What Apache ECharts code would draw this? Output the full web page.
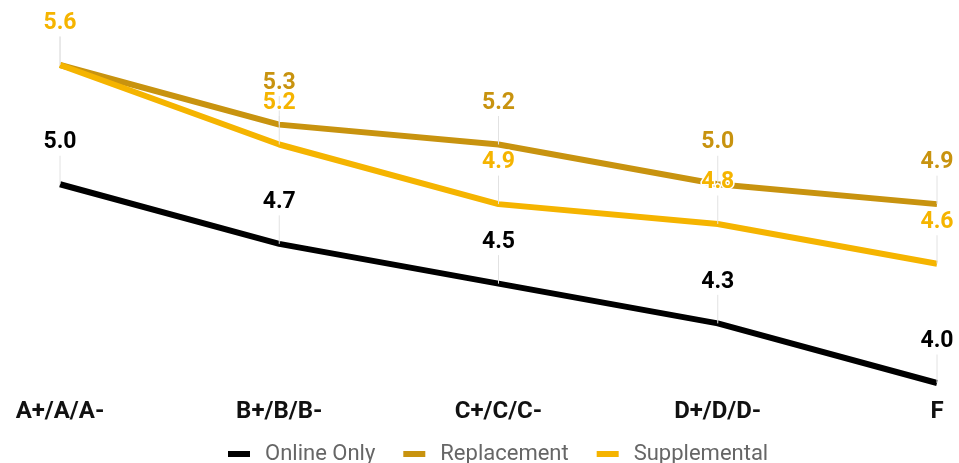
<!DOCTYPE html>
<html><head><meta charset="utf-8">
<script src="https://cdn.jsdelivr.net/npm/echarts@6/dist/echarts.min.js"></script>
<style>html,body{margin:0;padding:0;background:#fff}#c{width:959px;height:463px}</style>
</head><body><div id="c"></div>
<script>
var categories = ['A+/A/A-', 'B+/B/B-', 'C+/C/C-', 'D+/D/D-', 'F'];
var onlineOnly = [5.0, 4.7, 4.5, 4.3, 4.0];
var replacement = [5.6, 5.3, 5.2, 5.0, 4.9];
var supplemental = [5.6, 5.2, 4.9, 4.8, 4.6];
var seriesNames = ['Online Only', 'Replacement', 'Supplemental'];
var colors = ['#000000', '#C8930F', '#F5B400'];

function mk(name, data, color, z) {
  return {
    name: name, type: 'line', data: data, z: z,
    symbol: 'circle', symbolSize: 0.01, showSymbol: true, smooth: false,
    lineStyle: {color: color, width: 6},
    itemStyle: {color: color},
    label: {
      show: true, position: 'top', distance: 6,
      formatter: function (p) { return p.value.toFixed(1); },
      color: color, fontFamily: 'Roboto', fontWeight: 'bold', fontSize: 23,
      textBorderColor: '#fff', textBorderWidth: 3
    },
    labelLayout: {dy: -24},
    labelLine: {show: true, lineStyle: {color: '#e2e2e2', width: 1}}
  };
}

var chart = echarts.init(document.getElementById('c'));
chart.setOption({
  animation: false,
  color: colors,
  grid: {left: 60, right: 22, top: 65, bottom: 80},
  xAxis: {
    type: 'category', data: categories, boundaryGap: false,
    axisLine: {show: false}, axisTick: {show: false},
    axisLabel: {color: '#111', fontFamily: 'Roboto', fontWeight: 'bold', fontSize: 24, margin: 17}
  },
  yAxis: {type: 'value', min: 4.0, max: 5.6, show: false, splitLine: {show: false}},
  legend: {
    bottom: -7, left: 223, itemWidth: 22, itemHeight: 6, itemGap: 28,
    icon: 'rect',
    textStyle: {color: '#666', fontFamily: 'Roboto', fontSize: 22, padding: [0, 0, 0, 10]},
    data: seriesNames
  },
  series: [
    mk(seriesNames[0], onlineOnly, colors[0], 3),
    mk(seriesNames[1], replacement, colors[1], 2),
    mk(seriesNames[2], supplemental, colors[2], 4)
  ]
});
</script></body></html>
